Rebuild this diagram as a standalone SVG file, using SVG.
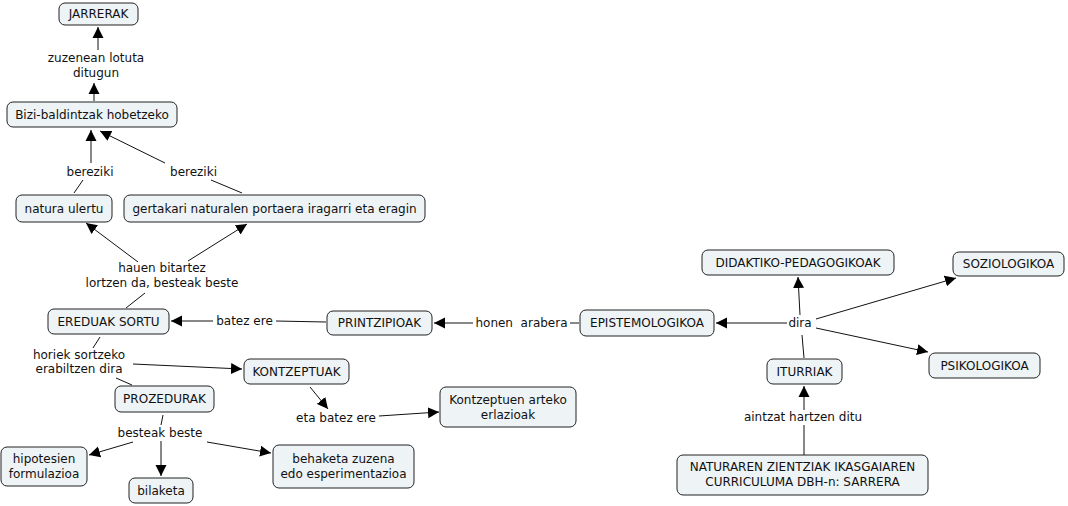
<svg xmlns="http://www.w3.org/2000/svg" width="1068" height="506" viewBox="0 0 1068 506">
<style>
.n rect{fill:#eef3f5;stroke:#222;stroke-width:1}
text{font-family:"DejaVu Sans","Liberation Sans",sans-serif;font-size:12px;fill:#111;text-anchor:middle}
.c line{stroke:#111;stroke-width:1}
.c .a{marker-end:url(#ah)}
</style>
<defs>
<marker id="ah" viewBox="0 0 10 10" refX="10" refY="5" markerWidth="11" markerHeight="12" markerUnits="userSpaceOnUse" orient="auto">
<path d="M0,0 L10,5 L0,10 z" fill="#000"/>
</marker>
</defs>
<rect width="1068" height="506" fill="#fff"/>
<g class="c" id="connectors">
<line class="a" x1="98" y1="50" x2="98" y2="27"/>
<line class="a" x1="94" y1="101" x2="94" y2="83"/>
<line x1="74" y1="193" x2="83" y2="180"/>
<line class="a" x1="91" y1="163" x2="91" y2="130"/>
<line x1="242" y1="193" x2="211" y2="180"/>
<line class="a" x1="165" y1="163" x2="100" y2="131"/>
<line x1="126" y1="308" x2="145" y2="293"/>
<line class="a" x1="138" y1="262" x2="86" y2="223"/>
<line class="a" x1="188" y1="261" x2="247" y2="224"/>
<line x1="326" y1="322" x2="276" y2="321"/>
<line class="a" x1="213" y1="321" x2="171" y2="321"/>
<line x1="579" y1="323" x2="570" y2="323"/>
<line class="a" x1="473" y1="323" x2="434" y2="323"/>
<line x1="804" y1="358" x2="802" y2="335"/>
<line class="a" x1="787" y1="323" x2="716" y2="323"/>
<line class="a" x1="800" y1="315" x2="798" y2="277"/>
<line class="a" x1="816" y1="319" x2="956" y2="278"/>
<line class="a" x1="816" y1="328" x2="928" y2="352"/>
<line x1="804" y1="455" x2="804" y2="425"/>
<line class="a" x1="804" y1="410" x2="804" y2="386"/>
<line x1="100" y1="337" x2="93" y2="348"/>
<line x1="116" y1="378" x2="132" y2="385"/>
<line class="a" x1="133" y1="364" x2="242" y2="369"/>
<line class="a" x1="310" y1="387" x2="328" y2="409"/>
<line class="a" x1="379" y1="416" x2="439" y2="412"/>
<line x1="163" y1="415" x2="161" y2="425"/>
<line class="a" x1="133" y1="442" x2="89" y2="455"/>
<line class="a" x1="161" y1="441" x2="161" y2="476"/>
<line class="a" x1="207" y1="442" x2="271" y2="453"/>
</g>
<g id="labels">
<text x="96" y="62">zuzenean lotuta</text>
<text x="96" y="77">ditugun</text>
<text x="90" y="176">bereziki</text>
<text x="193.5" y="176">bereziki</text>
<text x="162" y="272">hauen bitartez</text>
<text x="162" y="287">lortzen da, besteak beste</text>
<text x="244.5" y="325">batez ere</text>
<text x="521.5" y="327" xml:space="preserve">honen  arabera</text>
<text x="79" y="359">horiek sortzeko</text>
<text x="79" y="373">erabiltzen dira</text>
<text x="336" y="422">eta batez ere</text>
<text x="160" y="437">besteak beste</text>
<text x="800" y="327">dira</text>
<text x="803" y="421">aintzat hartzen ditu</text>
</g>
<g class="n" id="n-jarrerak"><rect x="59" y="3" width="79" height="22" rx="6"/><text x="98.5" y="18">JARRERAK</text></g>
<g class="n" id="n-bizi"><rect x="7" y="102" width="170" height="25" rx="6"/><text x="92" y="118.5">Bizi-baldintzak hobetzeko</text></g>
<g class="n" id="n-natura"><rect x="16" y="195" width="96" height="27" rx="6"/><text x="64" y="212.5">natura ulertu</text></g>
<g class="n" id="n-gertakari"><rect x="124" y="195" width="301" height="27" rx="6"/><text x="274.5" y="212.5">gertakari naturalen portaera iragarri eta eragin</text></g>
<g class="n" id="n-ereduak"><rect x="48" y="309" width="121" height="25" rx="6"/><text x="108.5" y="325.5">EREDUAK SORTU</text></g>
<g class="n" id="n-printzipioak"><rect x="327" y="311" width="105" height="24" rx="6"/><text x="379.5" y="327">PRINTZIPIOAK</text></g>
<g class="n" id="n-epistemologikoa"><rect x="580" y="310" width="134" height="26" rx="6"/><text x="647" y="327">EPISTEMOLOGIKOA</text></g>
<g class="n" id="n-didaktiko"><rect x="702" y="250" width="192" height="25" rx="6"/><text x="798" y="266.5">DIDAKTIKO-PEDAGOGIKOAK</text></g>
<g class="n" id="n-soziologikoa"><rect x="953" y="252" width="111" height="24" rx="6"/><text x="1008.5" y="268">SOZIOLOGIKOA</text></g>
<g class="n" id="n-psikologikoa"><rect x="929" y="353" width="111" height="25" rx="6"/><text x="984.5" y="369.5">PSIKOLOGIKOA</text></g>
<g class="n" id="n-iturriak"><rect x="767" y="359" width="75" height="25" rx="6"/><text x="804.5" y="375.5">ITURRIAK</text></g>
<g class="n" id="n-naturaren"><rect x="677" y="455" width="251" height="40" rx="6"/><text x="802.5" y="471">NATURAREN ZIENTZIAK IKASGAIAREN</text><text x="802.5" y="486">CURRICULUMA DBH-n: SARRERA</text></g>
<g class="n" id="n-kontzeptuak"><rect x="244" y="359" width="105" height="25" rx="6"/><text x="296.5" y="375.5">KONTZEPTUAK</text></g>
<g class="n" id="n-kontzeptuen"><rect x="440" y="387" width="136" height="40" rx="6"/><text x="508" y="404">Kontzeptuen arteko</text><text x="508" y="419">erlazioak</text></g>
<g class="n" id="n-prozedurak"><rect x="115" y="386" width="99" height="26" rx="6"/><text x="164.5" y="403">PROZEDURAK</text></g>
<g class="n" id="n-hipotesien"><rect x="1" y="447" width="86" height="39" rx="6"/><text x="44" y="463">hipotesien</text><text x="44" y="478">formulazioa</text></g>
<g class="n" id="n-bilaketa"><rect x="129" y="478" width="64" height="25" rx="6"/><text x="161" y="494.5">bilaketa</text></g>
<g class="n" id="n-behaketa"><rect x="273" y="445" width="141" height="43" rx="6"/><text x="343.5" y="463">behaketa zuzena</text><text x="343.5" y="478">edo esperimentazioa</text></g>
</svg>
